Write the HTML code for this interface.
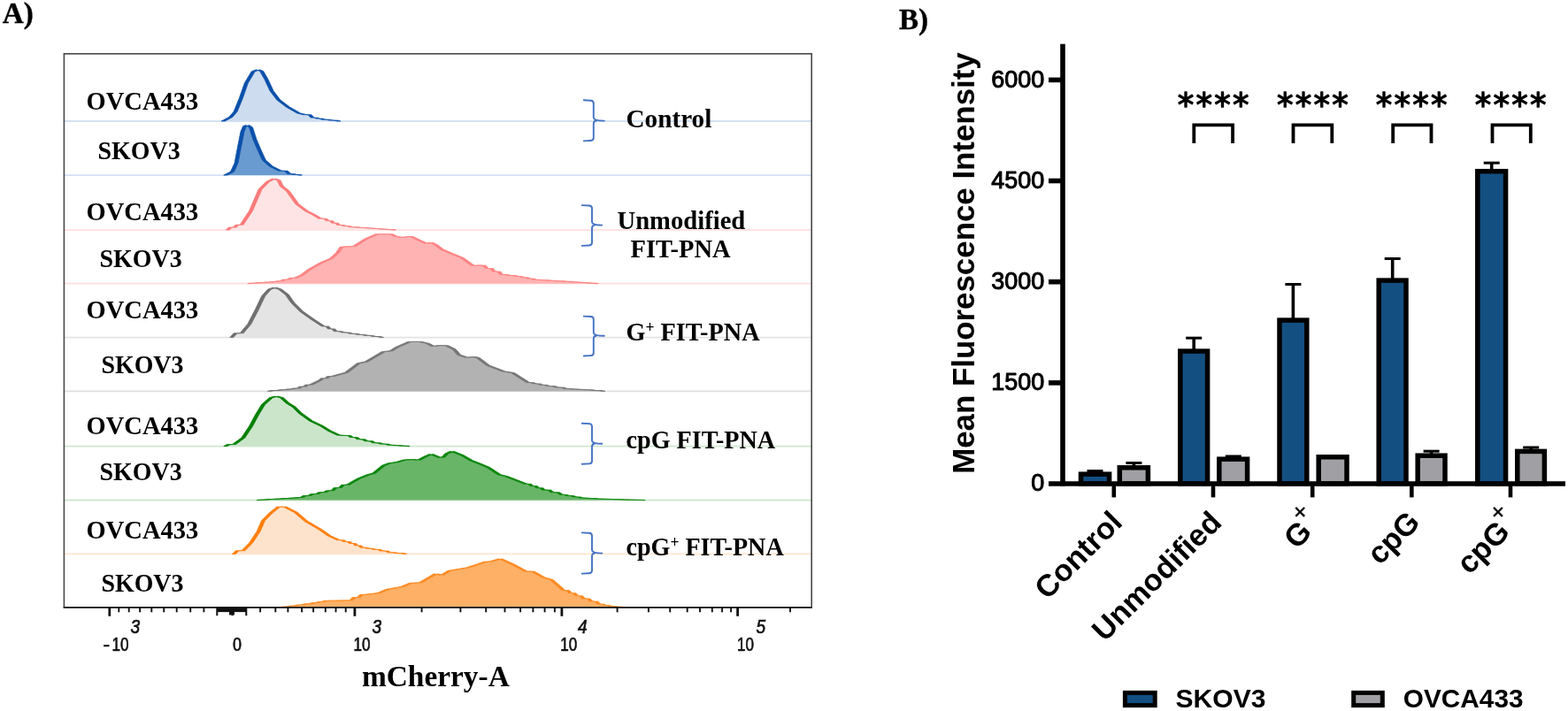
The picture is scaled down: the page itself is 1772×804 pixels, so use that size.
<!DOCTYPE html>
<html lang="en"><head><meta charset="utf-8"><title>Figure: FIT-PNA flow cytometry</title>
<style>
html,body{margin:0;padding:0;background:#fff;}
body{width:1772px;height:804px;overflow:hidden;}
svg{display:block;}
.tb{font-family:"Liberation Serif","DejaVu Serif",serif;font-weight:bold;fill:#000;}
.sb{font-family:"Liberation Sans","DejaVu Sans",sans-serif;font-weight:bold;fill:#000;}
.sr{font-family:"Liberation Sans","DejaVu Sans",sans-serif;font-weight:normal;fill:#000;}
.ax{font-family:"Liberation Sans","DejaVu Sans",sans-serif;fill:#111;}
</style></head><body>
<svg width="1772" height="804" viewBox="0 0 1772 804">
<rect x="0" y="0" width="1772" height="804" fill="#ffffff"/>
<g id="panelA">
<line x1="72.4" y1="137.0" x2="917.2" y2="137.0" stroke="#d3e2f3" stroke-width="1.8"/>
<line x1="72.4" y1="198.1" x2="917.2" y2="198.1" stroke="#d3e2f3" stroke-width="1.8"/>
<line x1="72.4" y1="260.0" x2="917.2" y2="260.0" stroke="#ffe3e3" stroke-width="1.8"/>
<line x1="72.4" y1="320.7" x2="917.2" y2="320.7" stroke="#ffdfdf" stroke-width="1.8"/>
<line x1="72.4" y1="381.6" x2="917.2" y2="381.6" stroke="#e3e3e3" stroke-width="1.8"/>
<line x1="72.4" y1="442.4" x2="917.2" y2="442.4" stroke="#e0e0e0" stroke-width="1.8"/>
<line x1="72.4" y1="504.6" x2="917.2" y2="504.6" stroke="#cfe7cf" stroke-width="1.8"/>
<line x1="72.4" y1="565.6" x2="917.2" y2="565.6" stroke="#cbe5cb" stroke-width="1.8"/>
<line x1="72.4" y1="626.4" x2="917.2" y2="626.4" stroke="#ffe5d0" stroke-width="1.8"/>
<polygon points="252.2,137.0 260.9,132.3 266.1,126.2 272.2,111.4 278.3,94.0 286.1,80.9 291.4,78.8 295.7,80.5 300.9,89.6 307.0,102.7 314.9,113.1 325.3,120.9 337.5,127.9 344.5,129.7 349.9,129.7 353.2,133.1 357.0,133.1 359.3,134.1 363.1,134.1 365.4,135.2 370.8,135.2 374.1,136.1 379.5,136.1 382.8,137.0" fill="#cddcee"/>
<polygon points="250.2,137.0 258.9,132.3 264.1,126.2 270.2,111.4 276.3,94.0 284.1,80.9 289.4,78.8 293.7,80.5 298.9,89.6 305.0,102.7 312.9,113.1 323.3,120.9 335.5,127.9 342.5,129.7 347.9,129.7 351.2,133.1 355.0,133.1 357.3,134.1 361.1,134.1 363.4,135.2 368.8,135.2 372.1,136.1 377.5,136.1 380.8,137.0 384.8,137.0 381.5,136.1 376.1,136.1 372.8,135.2 367.4,135.2 365.1,134.1 361.3,134.1 359.0,133.1 355.2,133.1 351.9,129.7 346.5,129.7 339.5,127.9 327.3,120.9 316.9,113.1 309.0,102.7 302.9,89.6 297.7,80.5 293.4,78.8 288.1,80.9 280.3,94.0 274.2,111.4 268.1,126.2 262.9,132.3 254.2,137.0" fill="#0b50aa" stroke="#0b50aa" stroke-width="0.8" stroke-linejoin="round"/>
<polygon points="254.8,198.1 262.6,194.1 267.0,184.5 270.5,166.2 274.0,148.8 276.6,142.7 279.7,141.5 283.5,143.9 287.9,157.5 293.1,169.7 298.3,181.0 306.2,188.0 316.6,193.2 323.1,193.2 327.1,196.7 330.9,196.7 333.2,197.4 337.0,197.4 339.3,198.1" fill="#6a9bd0"/>
<polygon points="252.8,198.1 260.6,194.1 265.0,184.5 268.5,166.2 272.0,148.8 274.6,142.7 277.7,141.5 281.5,143.9 285.9,157.5 291.1,169.7 296.3,181.0 304.2,188.0 314.6,193.2 321.1,193.2 325.1,196.7 328.9,196.7 331.2,197.4 335.0,197.4 337.3,198.1 341.3,198.1 339.0,197.4 335.2,197.4 332.9,196.7 329.1,196.7 325.1,193.2 318.6,193.2 308.2,188.0 300.3,181.0 295.1,169.7 289.9,157.5 285.5,143.9 281.7,141.5 278.6,142.7 276.0,148.8 272.5,166.2 269.0,184.5 264.6,194.1 256.8,198.1" fill="#0b50aa" stroke="#0b50aa" stroke-width="0.8" stroke-linejoin="round"/>
<polygon points="257.4,260.0 260.4,257.1 265.2,257.1 268.2,254.2 273.1,254.2 283.5,238.5 294.0,214.2 302.7,205.4 309.6,202.0 314.9,203.7 318.4,210.7 325.3,215.9 335.8,230.7 346.2,238.5 354.9,242.9 361.9,247.2 367.3,247.2 370.6,249.8 374.4,249.8 376.7,252.2 380.5,252.2 382.8,254.6 387.1,254.6 389.8,255.7 394.1,255.7 396.7,256.8 402.7,256.8 406.3,257.4 412.3,257.4 415.9,258.0 420.7,258.0 423.7,258.6 428.5,258.6 431.5,259.1 435.8,259.1 438.5,259.6 442.8,259.6 445.5,260.0" fill="#fee4e4"/>
<polygon points="255.4,260.0 258.4,257.1 263.2,257.1 266.2,254.2 271.1,254.2 281.5,238.5 292.0,214.2 300.7,205.4 307.6,202.0 312.9,203.7 316.4,210.7 323.3,215.9 333.8,230.7 344.2,238.5 352.9,242.9 359.9,247.2 365.3,247.2 368.6,249.8 372.4,249.8 374.7,252.2 378.5,252.2 380.8,254.6 385.1,254.6 387.8,255.7 392.1,255.7 394.7,256.8 400.7,256.8 404.3,257.4 410.3,257.4 413.9,258.0 418.7,258.0 421.7,258.6 426.5,258.6 429.5,259.1 433.8,259.1 436.5,259.6 440.8,259.6 443.5,260.0 447.5,260.0 444.8,259.6 440.5,259.6 437.8,259.1 433.5,259.1 430.5,258.6 425.7,258.6 422.7,258.0 417.9,258.0 414.3,257.4 408.3,257.4 404.7,256.8 398.7,256.8 396.1,255.7 391.8,255.7 389.1,254.6 384.8,254.6 382.5,252.2 378.7,252.2 376.4,249.8 372.6,249.8 369.3,247.2 363.9,247.2 356.9,242.9 348.2,238.5 337.8,230.7 327.3,215.9 320.4,210.7 316.9,203.7 311.6,202.0 304.7,205.4 296.0,214.2 285.5,238.5 275.1,254.2 270.2,254.2 267.2,257.1 262.4,257.1 259.4,260.0" fill="#fb7a7a" stroke="#fb7a7a" stroke-width="0.8" stroke-linejoin="round"/>
<polygon points="281.8,320.7 284.9,320.1 289.9,320.1 293.0,319.6 298.1,319.6 301.2,319.0 306.2,319.0 308.5,318.4 312.3,318.4 314.6,317.8 318.4,317.8 321.4,316.1 326.2,316.1 329.2,314.3 334.0,314.3 341.0,311.3 349.7,304.7 363.6,296.9 374.1,292.5 381.0,286.4 386.3,279.1 400.2,278.6 414.1,269.9 426.3,264.7 442.0,264.7 447.2,267.3 454.2,268.5 464.6,267.3 473.3,271.6 482.0,275.4 487.3,274.2 492.5,276.8 499.4,282.1 511.6,287.3 522.1,291.6 534.3,300.3 541.7,300.0 546.9,300.0 550.1,303.5 555.3,303.5 558.4,307.0 563.6,307.0 566.8,310.5 572.2,310.5 575.5,311.5 581.0,311.5 584.3,312.5 588.5,312.5 591.0,313.8 595.2,313.8 597.7,315.0 601.9,315.0 604.4,316.3 609.8,316.3 613.1,316.8 618.6,316.8 621.9,317.3 627.3,317.3 630.6,317.8 636.1,317.8 639.4,318.3 644.8,318.3 648.2,318.9 653.6,318.9 657.0,319.5 662.4,319.5 665.7,320.1 671.2,320.1 674.5,320.7" fill="#ffb3b3"/>
<polygon points="279.8,320.7 282.9,320.1 287.9,320.1 291.0,319.6 296.1,319.6 299.2,319.0 304.2,319.0 306.5,318.4 310.3,318.4 312.6,317.8 316.4,317.8 319.4,316.1 324.2,316.1 327.2,314.3 332.0,314.3 339.0,311.3 347.7,304.7 361.6,296.9 372.1,292.5 379.0,286.4 384.3,279.1 398.2,278.6 412.1,269.9 424.3,264.7 440.0,264.7 445.2,267.3 452.2,268.5 462.6,267.3 471.3,271.6 480.0,275.4 485.3,274.2 490.5,276.8 497.4,282.1 509.6,287.3 520.1,291.6 532.3,300.3 539.7,300.0 544.9,300.0 548.1,303.5 553.3,303.5 556.4,307.0 561.6,307.0 564.8,310.5 570.2,310.5 573.5,311.5 579.0,311.5 582.3,312.5 586.5,312.5 589.0,313.8 593.2,313.8 595.7,315.0 599.9,315.0 602.4,316.3 607.8,316.3 611.1,316.8 616.6,316.8 619.9,317.3 625.3,317.3 628.6,317.8 634.1,317.8 637.4,318.3 642.8,318.3 646.2,318.9 651.6,318.9 655.0,319.5 660.4,319.5 663.7,320.1 669.2,320.1 672.5,320.7 676.5,320.7 673.2,320.1 667.7,320.1 664.4,319.5 659.0,319.5 655.6,318.9 650.2,318.9 646.8,318.3 641.4,318.3 638.1,317.8 632.6,317.8 629.3,317.3 623.9,317.3 620.6,316.8 615.1,316.8 611.8,316.3 606.4,316.3 603.9,315.0 599.7,315.0 597.2,313.8 593.0,313.8 590.5,312.5 586.3,312.5 583.0,311.5 577.5,311.5 574.2,310.5 568.8,310.5 565.6,307.0 560.4,307.0 557.3,303.5 552.1,303.5 548.9,300.0 543.7,300.0 536.3,300.3 524.1,291.6 513.6,287.3 501.4,282.1 494.5,276.8 489.3,274.2 484.0,275.4 475.3,271.6 466.6,267.3 456.2,268.5 449.2,267.3 444.0,264.7 428.3,264.7 416.1,269.9 402.2,278.6 388.3,279.1 383.0,286.4 376.1,292.5 365.6,296.9 351.7,304.7 343.0,311.3 336.0,314.3 331.2,314.3 328.2,316.1 323.4,316.1 320.4,317.8 316.6,317.8 314.3,318.4 310.5,318.4 308.2,319.0 303.2,319.0 300.1,319.6 295.0,319.6 291.9,320.1 286.9,320.1 283.8,320.7" fill="#fd8383" stroke="#fd8383" stroke-width="0.8" stroke-linejoin="round"/>
<polygon points="261.8,381.6 266.1,376.8 273.1,376.8 281.8,366.4 290.5,349.8 297.5,335.0 304.4,327.2 310.5,325.1 316.6,327.2 324.5,333.3 330.5,342.0 341.0,352.4 353.2,361.1 365.4,369.0 369.7,369.0 372.4,371.9 376.7,371.9 379.3,374.7 384.7,374.7 388.0,376.0 393.4,376.0 396.7,377.3 402.1,377.3 405.4,378.4 410.8,378.4 414.1,379.4 419.5,379.4 422.8,380.5 428.2,380.5 431.5,381.6" fill="#e4e4e4"/>
<polygon points="259.8,381.6 264.1,376.8 271.1,376.8 279.8,366.4 288.5,349.8 295.5,335.0 302.4,327.2 308.5,325.1 314.6,327.2 322.5,333.3 328.5,342.0 339.0,352.4 351.2,361.1 363.4,369.0 367.7,369.0 370.4,371.9 374.7,371.9 377.3,374.7 382.7,374.7 386.0,376.0 391.4,376.0 394.7,377.3 400.1,377.3 403.4,378.4 408.8,378.4 412.1,379.4 417.5,379.4 420.8,380.5 426.2,380.5 429.5,381.6 433.5,381.6 430.2,380.5 424.8,380.5 421.5,379.4 416.1,379.4 412.8,378.4 407.4,378.4 404.1,377.3 398.7,377.3 395.4,376.0 390.0,376.0 386.7,374.7 381.3,374.7 378.7,371.9 374.4,371.9 371.7,369.0 367.4,369.0 355.2,361.1 343.0,352.4 332.5,342.0 326.5,333.3 318.6,327.2 312.5,325.1 306.4,327.2 299.5,335.0 292.5,349.8 283.8,366.4 275.1,376.8 268.1,376.8 263.8,381.6" fill="#6f6f6f" stroke="#6f6f6f" stroke-width="0.8" stroke-linejoin="round"/>
<polygon points="304.4,442.4 308.0,441.5 314.0,441.5 317.6,440.7 323.6,440.7 326.2,439.9 330.6,439.9 333.2,439.0 337.5,439.0 340.1,437.1 344.4,437.1 347.1,435.1 351.4,435.1 361.9,429.9 364.5,427.8 368.9,427.8 371.5,425.6 375.8,425.6 391.5,421.2 405.4,410.8 414.1,409.0 433.3,397.7 442.0,396.8 448.9,392.5 462.9,386.4 475.1,386.4 483.8,388.5 489.0,391.6 496.0,390.7 504.7,390.7 513.4,395.1 518.6,401.2 527.3,404.3 536.0,403.5 540.0,404.5 551.7,413.3 569.3,420.0 579.3,421.5 596.8,432.6 601.5,432.6 604.3,433.9 609.0,433.9 611.9,435.3 616.5,435.3 619.4,436.6 625.6,436.6 629.4,438.1 635.6,438.1 639.4,439.6 644.1,439.6 646.9,440.0 651.6,440.0 654.5,440.4 659.1,440.4 662.0,440.8 668.2,440.8 672.0,441.6 678.2,441.6 682.0,442.4" fill="#b2b2b2"/>
<polygon points="302.4,442.4 306.0,441.5 312.0,441.5 315.6,440.7 321.6,440.7 324.2,439.9 328.6,439.9 331.2,439.0 335.5,439.0 338.1,437.1 342.4,437.1 345.1,435.1 349.4,435.1 359.9,429.9 362.5,427.8 366.9,427.8 369.5,425.6 373.8,425.6 389.5,421.2 403.4,410.8 412.1,409.0 431.3,397.7 440.0,396.8 446.9,392.5 460.9,386.4 473.1,386.4 481.8,388.5 487.0,391.6 494.0,390.7 502.7,390.7 511.4,395.1 516.6,401.2 525.3,404.3 534.0,403.5 538.0,404.5 549.7,413.3 567.3,420.0 577.3,421.5 594.8,432.6 599.5,432.6 602.3,433.9 607.0,433.9 609.9,435.3 614.5,435.3 617.4,436.6 623.6,436.6 627.4,438.1 633.6,438.1 637.4,439.6 642.1,439.6 644.9,440.0 649.6,440.0 652.5,440.4 657.1,440.4 660.0,440.8 666.2,440.8 670.0,441.6 676.2,441.6 680.0,442.4 684.0,442.4 680.2,441.6 674.0,441.6 670.2,440.8 664.0,440.8 661.1,440.4 656.5,440.4 653.6,440.0 648.9,440.0 646.1,439.6 641.4,439.6 637.6,438.1 631.4,438.1 627.6,436.6 621.4,436.6 618.5,435.3 613.9,435.3 611.0,433.9 606.3,433.9 603.5,432.6 598.8,432.6 581.3,421.5 571.3,420.0 553.7,413.3 542.0,404.5 538.0,403.5 529.3,404.3 520.6,401.2 515.4,395.1 506.7,390.7 498.0,390.7 491.0,391.6 485.8,388.5 477.1,386.4 464.9,386.4 450.9,392.5 444.0,396.8 435.3,397.7 416.1,409.0 407.4,410.8 393.5,421.2 377.8,425.6 373.5,425.6 370.9,427.8 366.5,427.8 363.9,429.9 353.4,435.1 349.1,435.1 346.4,437.1 342.1,437.1 339.5,439.0 335.2,439.0 332.6,439.9 328.2,439.9 325.6,440.7 319.6,440.7 316.0,441.5 310.0,441.5 306.4,442.4" fill="#767676" stroke="#767676" stroke-width="0.8" stroke-linejoin="round"/>
<polygon points="254.8,504.6 258.4,502.6 264.4,502.6 274.8,495.1 283.5,482.0 290.5,469.0 297.5,457.6 306.2,449.8 312.3,448.1 318.4,449.8 325.3,455.9 332.3,460.2 339.3,467.2 351.4,475.9 363.6,481.7 372.3,487.2 382.8,492.1 389.7,492.5 394.6,492.5 397.5,494.6 402.4,494.6 405.4,496.8 410.8,496.8 414.1,498.8 419.5,498.8 422.8,500.8 428.2,500.8 431.5,502.1 436.9,502.1 440.2,503.3 444.5,503.3 447.2,503.7 451.5,503.7 454.1,504.2 458.5,504.2 461.1,504.6" fill="#cbe5cb"/>
<polygon points="252.8,504.6 256.4,502.6 262.4,502.6 272.8,495.1 281.5,482.0 288.5,469.0 295.5,457.6 304.2,449.8 310.3,448.1 316.4,449.8 323.3,455.9 330.3,460.2 337.3,467.2 349.4,475.9 361.6,481.7 370.3,487.2 380.8,492.1 387.7,492.5 392.6,492.5 395.5,494.6 400.4,494.6 403.4,496.8 408.8,496.8 412.1,498.8 417.5,498.8 420.8,500.8 426.2,500.8 429.5,502.1 434.9,502.1 438.2,503.3 442.5,503.3 445.2,503.7 449.5,503.7 452.1,504.2 456.5,504.2 459.1,504.6 463.1,504.6 460.5,504.2 456.1,504.2 453.5,503.7 449.2,503.7 446.5,503.3 442.2,503.3 438.9,502.1 433.5,502.1 430.2,500.8 424.8,500.8 421.5,498.8 416.1,498.8 412.8,496.8 407.4,496.8 404.4,494.6 399.5,494.6 396.6,492.5 391.7,492.5 384.8,492.1 374.3,487.2 365.6,481.7 353.4,475.9 341.3,467.2 334.3,460.2 327.3,455.9 320.4,449.8 314.3,448.1 308.2,449.8 299.5,457.6 292.5,469.0 285.5,482.0 276.8,495.1 266.4,502.6 260.4,502.6 256.8,504.6" fill="#038003" stroke="#038003" stroke-width="0.8" stroke-linejoin="round"/>
<polygon points="292.2,565.6 295.5,565.1 300.9,565.1 304.2,564.5 309.6,564.5 313.0,564.0 318.4,564.0 321.7,563.5 327.1,563.5 329.7,563.0 334.1,563.0 336.7,562.5 341.0,562.5 344.3,560.5 349.7,560.5 353.0,558.6 358.4,558.6 361.7,556.7 367.1,556.7 370.4,554.8 375.8,554.8 379.1,551.5 384.5,551.5 387.8,548.2 393.2,548.2 405.4,541.2 415.9,536.9 422.8,535.1 433.3,526.4 440.2,523.8 448.9,522.6 457.7,520.0 466.4,519.5 473.3,520.3 480.3,516.5 487.3,513.4 497.7,517.7 501.2,516.8 504.7,513.0 510.8,510.2 522.1,514.7 532.5,520.7 541.7,524.3 551.7,528.5 564.3,536.8 571.8,538.6 594.3,547.3 598.5,547.3 601.0,549.6 605.2,549.6 607.7,551.8 611.9,551.8 614.4,554.1 620.6,554.1 624.4,556.8 630.6,556.8 634.4,559.4 639.1,559.4 641.9,560.6 646.6,560.6 649.5,561.9 654.1,561.9 657.0,563.1 662.4,563.1 665.8,563.6 671.2,563.6 674.5,564.1 679.2,564.1 682.0,564.3 686.7,564.3 689.5,564.5 694.2,564.5 697.0,564.7 701.7,564.7 704.6,565.0 709.2,565.0 712.1,565.2 716.7,565.2 719.6,565.4 724.2,565.4 727.1,565.6" fill="#68b568"/>
<polygon points="290.2,565.6 293.5,565.1 298.9,565.1 302.2,564.5 307.6,564.5 311.0,564.0 316.4,564.0 319.7,563.5 325.1,563.5 327.7,563.0 332.1,563.0 334.7,562.5 339.0,562.5 342.3,560.5 347.7,560.5 351.0,558.6 356.4,558.6 359.7,556.7 365.1,556.7 368.4,554.8 373.8,554.8 377.1,551.5 382.5,551.5 385.8,548.2 391.2,548.2 403.4,541.2 413.9,536.9 420.8,535.1 431.3,526.4 438.2,523.8 446.9,522.6 455.7,520.0 464.4,519.5 471.3,520.3 478.3,516.5 485.3,513.4 495.7,517.7 499.2,516.8 502.7,513.0 508.8,510.2 520.1,514.7 530.5,520.7 539.7,524.3 549.7,528.5 562.3,536.8 569.8,538.6 592.3,547.3 596.5,547.3 599.0,549.6 603.2,549.6 605.7,551.8 609.9,551.8 612.4,554.1 618.6,554.1 622.4,556.8 628.6,556.8 632.4,559.4 637.1,559.4 639.9,560.6 644.6,560.6 647.5,561.9 652.1,561.9 655.0,563.1 660.4,563.1 663.8,563.6 669.2,563.6 672.5,564.1 677.2,564.1 680.0,564.3 684.7,564.3 687.5,564.5 692.2,564.5 695.0,564.7 699.7,564.7 702.6,565.0 707.2,565.0 710.1,565.2 714.7,565.2 717.6,565.4 722.2,565.4 725.1,565.6 729.1,565.6 726.2,565.4 721.6,565.4 718.7,565.2 714.1,565.2 711.2,565.0 706.6,565.0 703.7,564.7 699.0,564.7 696.2,564.5 691.5,564.5 688.7,564.3 684.0,564.3 681.2,564.1 676.5,564.1 673.2,563.6 667.8,563.6 664.4,563.1 659.0,563.1 656.1,561.9 651.5,561.9 648.6,560.6 643.9,560.6 641.1,559.4 636.4,559.4 632.6,556.8 626.4,556.8 622.6,554.1 616.4,554.1 613.9,551.8 609.7,551.8 607.2,549.6 603.0,549.6 600.5,547.3 596.3,547.3 573.8,538.6 566.3,536.8 553.7,528.5 543.7,524.3 534.5,520.7 524.1,514.7 512.8,510.2 506.7,513.0 503.2,516.8 499.7,517.7 489.3,513.4 482.3,516.5 475.3,520.3 468.4,519.5 459.7,520.0 450.9,522.6 442.2,523.8 435.3,526.4 424.8,535.1 417.9,536.9 407.4,541.2 395.2,548.2 389.8,548.2 386.5,551.5 381.1,551.5 377.8,554.8 372.4,554.8 369.1,556.7 363.7,556.7 360.4,558.6 355.0,558.6 351.7,560.5 346.3,560.5 343.0,562.5 338.7,562.5 336.1,563.0 331.7,563.0 329.1,563.5 323.7,563.5 320.4,564.0 315.0,564.0 311.6,564.5 306.2,564.5 302.9,565.1 297.5,565.1 294.2,565.6" fill="#0a860a" stroke="#0a860a" stroke-width="0.8" stroke-linejoin="round"/>
<polygon points="264.4,626.4 268.4,622.7 274.8,622.7 283.5,614.0 292.2,600.9 297.5,588.7 306.2,580.0 314.9,573.1 321.8,573.1 334.0,579.2 346.2,589.6 361.9,598.7 372.3,606.1 382.8,610.8 387.1,610.8 389.8,612.6 394.1,612.6 396.7,614.5 400.5,614.5 402.8,616.9 406.6,616.9 408.9,619.2 413.2,619.2 415.9,620.2 420.2,620.2 422.8,621.3 428.2,621.3 431.5,623.0 436.9,623.0 440.2,624.8 445.6,624.8 448.9,625.6 454.4,625.6 457.7,626.4" fill="#fee3cc"/>
<polygon points="262.4,626.4 266.4,622.7 272.8,622.7 281.5,614.0 290.2,600.9 295.5,588.7 304.2,580.0 312.9,573.1 319.8,573.1 332.0,579.2 344.2,589.6 359.9,598.7 370.3,606.1 380.8,610.8 385.1,610.8 387.8,612.6 392.1,612.6 394.7,614.5 398.5,614.5 400.8,616.9 404.6,616.9 406.9,619.2 411.2,619.2 413.9,620.2 418.2,620.2 420.8,621.3 426.2,621.3 429.5,623.0 434.9,623.0 438.2,624.8 443.6,624.8 446.9,625.6 452.4,625.6 455.7,626.4 459.7,626.4 456.4,625.6 450.9,625.6 447.6,624.8 442.2,624.8 438.9,623.0 433.5,623.0 430.2,621.3 424.8,621.3 422.2,620.2 417.9,620.2 415.2,619.2 410.9,619.2 408.6,616.9 404.8,616.9 402.5,614.5 398.7,614.5 396.1,612.6 391.8,612.6 389.1,610.8 384.8,610.8 374.3,606.1 363.9,598.7 348.2,589.6 336.0,579.2 323.8,573.1 316.9,573.1 308.2,580.0 299.5,588.7 294.2,600.9 285.5,614.0 276.8,622.7 270.4,622.7 266.4,626.4" fill="#ff7f0e" stroke="#ff7f0e" stroke-width="0.8" stroke-linejoin="round"/>
<polygon points="319.2,686.8 322.0,685.9 326.6,685.9 329.4,685.0 334.0,685.0 337.3,683.9 342.7,683.9 346.0,682.8 351.4,682.8 354.0,681.6 358.4,681.6 361.0,680.5 365.3,680.5 368.0,679.3 372.3,679.3 375.4,679.2 380.4,679.2 383.5,679.0 388.6,679.0 391.7,678.9 396.7,678.9 400.0,675.6 405.4,675.6 408.7,672.3 414.1,672.3 428.0,670.6 438.5,666.2 454.2,663.6 464.6,659.3 475.1,658.9 492.5,648.8 499.4,650.5 508.1,645.3 518.6,643.6 529.2,641.8 549.2,635.1 554.3,635.1 565.5,631.8 579.3,638.1 594.3,646.1 601.9,646.1 614.4,653.1 623.2,655.6 636.9,667.6 641.6,667.6 644.4,670.7 649.1,670.7 652.0,673.8 656.6,673.8 659.5,676.9 664.9,676.9 668.2,680.0 673.7,680.0 677.0,683.2 681.0,683.2 683.5,684.4 687.5,684.4 690.0,685.6 694.5,685.6 697.2,686.2 701.7,686.2 704.5,686.8" fill="#fdb066"/>
<polygon points="317.2,686.8 320.0,685.9 324.6,685.9 327.4,685.0 332.0,685.0 335.3,683.9 340.7,683.9 344.0,682.8 349.4,682.8 352.0,681.6 356.4,681.6 359.0,680.5 363.3,680.5 366.0,679.3 370.3,679.3 373.4,679.2 378.4,679.2 381.5,679.0 386.6,679.0 389.7,678.9 394.7,678.9 398.0,675.6 403.4,675.6 406.7,672.3 412.1,672.3 426.0,670.6 436.5,666.2 452.2,663.6 462.6,659.3 473.1,658.9 490.5,648.8 497.4,650.5 506.1,645.3 516.6,643.6 527.2,641.8 547.2,635.1 552.3,635.1 563.5,631.8 577.3,638.1 592.3,646.1 599.9,646.1 612.4,653.1 621.2,655.6 634.9,667.6 639.6,667.6 642.4,670.7 647.1,670.7 650.0,673.8 654.6,673.8 657.5,676.9 662.9,676.9 666.2,680.0 671.7,680.0 675.0,683.2 679.0,683.2 681.5,684.4 685.5,684.4 688.0,685.6 692.5,685.6 695.2,686.2 699.7,686.2 702.5,686.8 706.5,686.8 703.7,686.2 699.2,686.2 696.5,685.6 692.0,685.6 689.5,684.4 685.5,684.4 683.0,683.2 679.0,683.2 675.7,680.0 670.2,680.0 666.9,676.9 661.5,676.9 658.6,673.8 654.0,673.8 651.1,670.7 646.4,670.7 643.6,667.6 638.9,667.6 625.2,655.6 616.4,653.1 603.9,646.1 596.3,646.1 581.3,638.1 567.5,631.8 556.3,635.1 551.2,635.1 531.2,641.8 520.6,643.6 510.1,645.3 501.4,650.5 494.5,648.8 477.1,658.9 466.6,659.3 456.2,663.6 440.5,666.2 430.0,670.6 416.1,672.3 410.7,672.3 407.4,675.6 402.0,675.6 398.7,678.9 393.7,678.9 390.6,679.0 385.5,679.0 382.4,679.2 377.4,679.2 374.3,679.3 370.0,679.3 367.3,680.5 363.0,680.5 360.4,681.6 356.0,681.6 353.4,682.8 348.0,682.8 344.7,683.9 339.3,683.9 336.0,685.0 331.4,685.0 328.6,685.9 324.0,685.9 321.2,686.8" fill="#fe8a22" stroke="#fe8a22" stroke-width="0.8" stroke-linejoin="round"/>
<rect x="72.4" y="60.8" width="844.8" height="626.1" fill="none" stroke="#484848" stroke-width="1.6"/>
<line x1="71.7" y1="686.9" x2="917.9000000000001" y2="686.9" stroke="#222" stroke-width="1.8"/>
<line x1="123.8" y1="686.9" x2="123.8" y2="696.8" stroke="#111" stroke-width="2.8"/>
<line x1="400.9" y1="686.9" x2="400.9" y2="696.8" stroke="#111" stroke-width="2.8"/>
<line x1="634.9" y1="686.9" x2="634.9" y2="696.8" stroke="#111" stroke-width="2.8"/>
<line x1="833.6" y1="686.9" x2="833.6" y2="696.8" stroke="#111" stroke-width="2.8"/>
<line x1="134.3" y1="686.9" x2="134.3" y2="692.3" stroke="#111" stroke-width="1.9"/>
<line x1="145.7" y1="686.9" x2="145.7" y2="692.3" stroke="#111" stroke-width="1.9"/>
<line x1="158.1" y1="686.9" x2="158.1" y2="692.3" stroke="#111" stroke-width="1.9"/>
<line x1="171.3" y1="686.9" x2="171.3" y2="692.3" stroke="#111" stroke-width="1.9"/>
<line x1="185.2" y1="686.9" x2="185.2" y2="692.3" stroke="#111" stroke-width="1.9"/>
<line x1="199.7" y1="686.9" x2="199.7" y2="692.3" stroke="#111" stroke-width="1.9"/>
<line x1="215.2" y1="686.9" x2="215.2" y2="692.3" stroke="#111" stroke-width="1.9"/>
<line x1="230.4" y1="686.9" x2="230.4" y2="692.3" stroke="#111" stroke-width="1.9"/>
<line x1="294.1" y1="686.9" x2="294.1" y2="692.3" stroke="#111" stroke-width="1.9"/>
<line x1="311.3" y1="686.9" x2="311.3" y2="692.3" stroke="#111" stroke-width="1.9"/>
<line x1="325.4" y1="686.9" x2="325.4" y2="692.3" stroke="#111" stroke-width="1.9"/>
<line x1="341.1" y1="686.9" x2="341.1" y2="692.3" stroke="#111" stroke-width="1.9"/>
<line x1="354.1" y1="686.9" x2="354.1" y2="692.3" stroke="#111" stroke-width="1.9"/>
<line x1="367.8" y1="686.9" x2="367.8" y2="692.3" stroke="#111" stroke-width="1.9"/>
<line x1="379.5" y1="686.9" x2="379.5" y2="692.3" stroke="#111" stroke-width="1.9"/>
<line x1="390.7" y1="686.9" x2="390.7" y2="692.3" stroke="#111" stroke-width="1.9"/>
<line x1="476.6" y1="686.9" x2="476.6" y2="692.3" stroke="#111" stroke-width="1.9"/>
<line x1="520.4" y1="686.9" x2="520.4" y2="692.3" stroke="#111" stroke-width="1.9"/>
<line x1="549.2" y1="686.9" x2="549.2" y2="692.3" stroke="#111" stroke-width="1.9"/>
<line x1="570.5" y1="686.9" x2="570.5" y2="692.3" stroke="#111" stroke-width="1.9"/>
<line x1="588.1" y1="686.9" x2="588.1" y2="692.3" stroke="#111" stroke-width="1.9"/>
<line x1="602.4" y1="686.9" x2="602.4" y2="692.3" stroke="#111" stroke-width="1.9"/>
<line x1="615.6" y1="686.9" x2="615.6" y2="692.3" stroke="#111" stroke-width="1.9"/>
<line x1="626.9" y1="686.9" x2="626.9" y2="692.3" stroke="#111" stroke-width="1.9"/>
<line x1="697.6" y1="686.9" x2="697.6" y2="692.3" stroke="#111" stroke-width="1.9"/>
<line x1="732.9" y1="686.9" x2="732.9" y2="692.3" stroke="#111" stroke-width="1.9"/>
<line x1="757.2" y1="686.9" x2="757.2" y2="692.3" stroke="#111" stroke-width="1.9"/>
<line x1="776.7" y1="686.9" x2="776.7" y2="692.3" stroke="#111" stroke-width="1.9"/>
<line x1="791" y1="686.9" x2="791" y2="692.3" stroke="#111" stroke-width="1.9"/>
<line x1="804.8" y1="686.9" x2="804.8" y2="692.3" stroke="#111" stroke-width="1.9"/>
<line x1="816.1" y1="686.9" x2="816.1" y2="692.3" stroke="#111" stroke-width="1.9"/>
<line x1="826.1" y1="686.9" x2="826.1" y2="692.3" stroke="#111" stroke-width="1.9"/>
<line x1="893" y1="686.9" x2="893" y2="692.3" stroke="#111" stroke-width="1.9"/>
<rect x="246" y="686.9" width="32.5" height="5.2" fill="#111"/>
<line x1="245.3" y1="686.9" x2="245.3" y2="696.2" stroke="#111" stroke-width="2"/>
<line x1="262.5" y1="686.9" x2="262.5" y2="696.2" stroke="#111" stroke-width="2"/>
<line x1="278.3" y1="686.9" x2="278.3" y2="696.2" stroke="#111" stroke-width="2"/>
<rect x="259" y="686.9" width="6" height="8.5" fill="#111"/>
<text class="ax" y="736.2" font-size="21.5" stroke="#111" stroke-width="0.7"><tspan x="116.6" textLength="7.6" lengthAdjust="spacingAndGlyphs">-</tspan><tspan x="126.6" textLength="19" lengthAdjust="spacingAndGlyphs">10</tspan></text><text class="ax" x="147.5" y="716.3" font-size="21.5" font-style="italic" textLength="10.6" lengthAdjust="spacingAndGlyphs" stroke="#111" stroke-width="0.7">3</text>
<text class="ax" x="263.0" y="736.2" font-size="21.5" textLength="10.0" lengthAdjust="spacingAndGlyphs" stroke="#111" stroke-width="0.7">0</text>
<text class="ax" x="399.6" y="736.2" font-size="21.5" textLength="19" lengthAdjust="spacingAndGlyphs" stroke="#111" stroke-width="0.7">10</text><text class="ax" x="420.5" y="716.3" font-size="21.5" font-style="italic" textLength="10.6" lengthAdjust="spacingAndGlyphs" stroke="#111" stroke-width="0.7">3</text>
<text class="ax" x="633.2" y="736.2" font-size="21.5" textLength="19" lengthAdjust="spacingAndGlyphs" stroke="#111" stroke-width="0.7">10</text><text class="ax" x="653" y="716.3" font-size="21.5" font-style="italic" textLength="10.6" lengthAdjust="spacingAndGlyphs" stroke="#111" stroke-width="0.7">4</text>
<text class="ax" x="832.9" y="736.2" font-size="21.5" textLength="19" lengthAdjust="spacingAndGlyphs" stroke="#111" stroke-width="0.7">10</text><text class="ax" x="854.5" y="716.3" font-size="21.5" font-style="italic" textLength="10.6" lengthAdjust="spacingAndGlyphs" stroke="#111" stroke-width="0.7">5</text>
<text class="tb" x="408.9" y="776.4" font-size="33.5" textLength="166.9" lengthAdjust="spacingAndGlyphs">mCherry-A</text>
<text class="tb" x="97.6" y="123.6" font-size="29.5" textLength="126.6" lengthAdjust="spacingAndGlyphs">OVCA433</text>
<text class="tb" x="97.6" y="249.4" font-size="29.5" textLength="126.6" lengthAdjust="spacingAndGlyphs">OVCA433</text>
<text class="tb" x="97.6" y="359.9" font-size="29.5" textLength="126.6" lengthAdjust="spacingAndGlyphs">OVCA433</text>
<text class="tb" x="97.6" y="491.3" font-size="29.5" textLength="126.6" lengthAdjust="spacingAndGlyphs">OVCA433</text>
<text class="tb" x="97.6" y="609.2" font-size="29.5" textLength="126.6" lengthAdjust="spacingAndGlyphs">OVCA433</text>
<text class="tb" x="110.6" y="180.2" font-size="29.5" textLength="93.1" lengthAdjust="spacingAndGlyphs">SKOV3</text>
<text class="tb" x="112.6" y="302.0" font-size="29.5" textLength="93.1" lengthAdjust="spacingAndGlyphs">SKOV3</text>
<text class="tb" x="114.4" y="422.3" font-size="29.5" textLength="93.1" lengthAdjust="spacingAndGlyphs">SKOV3</text>
<text class="tb" x="112.6" y="543.1" font-size="29.5" textLength="93.1" lengthAdjust="spacingAndGlyphs">SKOV3</text>
<text class="tb" x="114.4" y="669.2" font-size="29.5" textLength="93.1" lengthAdjust="spacingAndGlyphs">SKOV3</text>
<path d="M659.8,113.3 L667.8,113.7 Q670.8,113.89999999999999 670.8,116.89999999999999 L670.8,133.1 Q670.8,136.6 682.8,136.6 M670.8,140.1 Q670.8,136.6 673.8,136.6 M670.8,139.6 L670.8,155.8 Q670.8,158.8 667.8,159.0 L659.8,159.4" fill="none" stroke="#4472c4" stroke-width="1.9" stroke-linecap="round"/>
<path d="M657.8,232.1 L666.0,232.5 Q669,232.7 669,235.7 L669,251.1 Q669,254.6 680.3,254.6 M669,258.1 Q669,254.6 672,254.6 M669,257.6 L669,274.29999999999995 Q669,277.29999999999995 666.0,277.5 L657.8,277.9" fill="none" stroke="#4472c4" stroke-width="1.9" stroke-linecap="round"/>
<path d="M659.8,357.6 L667.8,358.0 Q670.8,358.20000000000005 670.8,361.20000000000005 L670.8,376.2 Q670.8,379.7 682.8,379.7 M670.8,383.2 Q670.8,379.7 673.8,379.7 M670.8,382.7 L670.8,398.9 Q670.8,401.9 667.8,402.1 L659.8,402.5" fill="none" stroke="#4472c4" stroke-width="1.9" stroke-linecap="round"/>
<path d="M657.8,478.7 L666.0,479.09999999999997 Q669,479.3 669,482.3 L669,498.2 Q669,501.7 680.3,501.7 M669,505.2 Q669,501.7 672,501.7 M669,504.7 L669,521.1999999999999 Q669,524.1999999999999 666.0,524.4 L657.8,524.8" fill="none" stroke="#4472c4" stroke-width="1.9" stroke-linecap="round"/>
<path d="M657.8,602.4 L666.0,602.8 Q669,603.0 669,606.0 L669,622.1 Q669,625.6 680.3,625.6 M669,629.1 Q669,625.6 672,625.6 M669,628.6 L669,645.0 Q669,648.0 666.0,648.2 L657.8,648.6" fill="none" stroke="#4472c4" stroke-width="1.9" stroke-linecap="round"/>
<text class="tb" x="707.5" y="144.1" font-size="29" textLength="96.8" lengthAdjust="spacingAndGlyphs">Control</text>
<text class="tb" x="697.5" y="258.6" font-size="29" textLength="144.8" lengthAdjust="spacingAndGlyphs">Unmodified</text>
<text class="tb" x="712.6" y="291.2" font-size="29" textLength="113.0" lengthAdjust="spacingAndGlyphs">FIT-PNA</text>
<text class="tb" x="707.5" y="385.2" font-size="29" textLength="151.1" lengthAdjust="spacingAndGlyphs">G<tspan font-size="18" dy="-9">+</tspan><tspan dy="9"> FIT-PNA</tspan></text>
<text class="tb" x="707.5" y="506.8" font-size="29" textLength="168.7" lengthAdjust="spacingAndGlyphs">cpG FIT-PNA</text>
<text class="tb" x="707.5" y="628.3" font-size="29" textLength="178.2" lengthAdjust="spacingAndGlyphs">cpG<tspan font-size="18" dy="-9">+</tspan><tspan dy="9"> FIT-PNA</tspan></text>
<text class="tb" x="2.8" y="25.7" font-size="33" textLength="35" lengthAdjust="spacingAndGlyphs" stroke="#000" stroke-width="0.4">A)</text>
</g>
<g id="panelB">
<text class="tb" x="1016.0" y="32.8" font-size="33" textLength="33" lengthAdjust="spacingAndGlyphs" stroke="#000" stroke-width="0.4">B)</text>
<line x1="1237.5" y1="532.6" x2="1237.5" y2="535.5" stroke="#000" stroke-width="3.6"/>
<line x1="1228.5" y1="532.6" x2="1246.5" y2="532.6" stroke="#000" stroke-width="3.0"/>
<rect x="1221.5" y="536.2" width="32.1" height="10.8" fill="#144f82" stroke="#000" stroke-width="5.5"/>
<line x1="1281.4" y1="523.5" x2="1281.4" y2="528.0" stroke="#000" stroke-width="3.6"/>
<line x1="1272.4" y1="523.5" x2="1290.4" y2="523.5" stroke="#000" stroke-width="3.0"/>
<rect x="1265.3" y="528.8" width="32.1" height="18.2" fill="#a0a0a4" stroke="#000" stroke-width="5.5"/>
<line x1="1349.2" y1="382.2" x2="1349.2" y2="396.4" stroke="#000" stroke-width="3.6"/>
<line x1="1340.2" y1="382.2" x2="1358.2" y2="382.2" stroke="#000" stroke-width="3.0"/>
<rect x="1333.8" y="397.1" width="30.8" height="149.9" fill="#144f82" stroke="#000" stroke-width="5.5"/>
<line x1="1393.8" y1="516.0" x2="1393.8" y2="518.5" stroke="#000" stroke-width="3.6"/>
<line x1="1384.8" y1="516.0" x2="1402.8" y2="516.0" stroke="#000" stroke-width="3.0"/>
<rect x="1377.8" y="519.2" width="31.8" height="27.8" fill="#a0a0a4" stroke="#000" stroke-width="5.5"/>
<line x1="1461.4" y1="321.5" x2="1461.4" y2="361.4" stroke="#000" stroke-width="3.6"/>
<line x1="1452.4" y1="321.5" x2="1470.4" y2="321.5" stroke="#000" stroke-width="3.0"/>
<rect x="1446.0" y="362.1" width="30.8" height="184.9" fill="#144f82" stroke="#000" stroke-width="5.5"/>
<rect x="1490.2" y="516.8" width="31.8" height="30.2" fill="#a0a0a4" stroke="#000" stroke-width="5.5"/>
<line x1="1573.7" y1="292.5" x2="1573.7" y2="316.3" stroke="#000" stroke-width="3.6"/>
<line x1="1564.7" y1="292.5" x2="1582.7" y2="292.5" stroke="#000" stroke-width="3.0"/>
<rect x="1558.2" y="317.1" width="30.8" height="229.9" fill="#144f82" stroke="#000" stroke-width="5.5"/>
<line x1="1617.6" y1="510.2" x2="1617.6" y2="514.5" stroke="#000" stroke-width="3.6"/>
<line x1="1608.6" y1="510.2" x2="1626.6" y2="510.2" stroke="#000" stroke-width="3.0"/>
<rect x="1602.2" y="515.2" width="30.8" height="31.8" fill="#a0a0a4" stroke="#000" stroke-width="5.5"/>
<line x1="1685.7" y1="184.2" x2="1685.7" y2="192.9" stroke="#000" stroke-width="3.6"/>
<line x1="1676.7" y1="184.2" x2="1694.7" y2="184.2" stroke="#000" stroke-width="3.0"/>
<rect x="1669.8" y="193.7" width="31.8" height="353.4" fill="#144f82" stroke="#000" stroke-width="5.5"/>
<line x1="1730.2" y1="506.0" x2="1730.2" y2="509.7" stroke="#000" stroke-width="3.6"/>
<line x1="1721.2" y1="506.0" x2="1739.2" y2="506.0" stroke="#000" stroke-width="3.0"/>
<rect x="1714.8" y="510.4" width="30.6" height="36.6" fill="#a0a0a4" stroke="#000" stroke-width="5.5"/>
<line x1="1201.0" y1="49.7" x2="1201.0" y2="549.8" stroke="#000" stroke-width="5.6"/>
<line x1="1185" y1="547.0" x2="1769" y2="547.0" stroke="#000" stroke-width="5.6"/>
<line x1="1185" y1="432.9" x2="1201" y2="432.9" stroke="#000" stroke-width="5.6"/>
<line x1="1185" y1="318.7" x2="1201" y2="318.7" stroke="#000" stroke-width="5.6"/>
<line x1="1185" y1="204.5" x2="1201" y2="204.5" stroke="#000" stroke-width="5.6"/>
<line x1="1185" y1="90.4" x2="1201" y2="90.4" stroke="#000" stroke-width="5.6"/>
<line x1="1258.8" y1="547.0" x2="1258.8" y2="562.4" stroke="#000" stroke-width="4.6"/>
<line x1="1371.0" y1="547.0" x2="1371.0" y2="562.4" stroke="#000" stroke-width="4.6"/>
<line x1="1483.2" y1="547.0" x2="1483.2" y2="562.4" stroke="#000" stroke-width="4.6"/>
<line x1="1595.3" y1="547.0" x2="1595.3" y2="562.4" stroke="#000" stroke-width="4.6"/>
<line x1="1707.0" y1="547.0" x2="1707.0" y2="562.4" stroke="#000" stroke-width="4.6"/>
<text class="sr" x="1180.4" y="555.1" font-size="27" text-anchor="end" stroke="#000" stroke-width="1.0" stroke-linejoin="round">0</text>
<text class="sr" x="1180.4" y="441.0" font-size="27" text-anchor="end" stroke="#000" stroke-width="1.0" stroke-linejoin="round">1500</text>
<text class="sr" x="1180.4" y="326.8" font-size="27" text-anchor="end" stroke="#000" stroke-width="1.0" stroke-linejoin="round">3000</text>
<text class="sr" x="1180.4" y="212.6" font-size="27" text-anchor="end" stroke="#000" stroke-width="1.0" stroke-linejoin="round">4500</text>
<text class="sr" x="1180.4" y="98.5" font-size="27" text-anchor="end" stroke="#000" stroke-width="1.0" stroke-linejoin="round">6000</text>
<text class="sb" font-size="34.5" textLength="476.5" lengthAdjust="spacingAndGlyphs" transform="translate(1101.2,535.8) rotate(-90)">Mean Fluorescence Intensity</text>
<text x="1330.8" y="131.65" font-family="DejaVu Sans, Liberation Sans, sans-serif" font-size="37" letter-spacing="2.25" fill="#000" stroke="#000" stroke-width="1.3" stroke-linejoin="round">****</text>
<text x="1443.0" y="131.65" font-family="DejaVu Sans, Liberation Sans, sans-serif" font-size="37" letter-spacing="2.25" fill="#000" stroke="#000" stroke-width="1.3" stroke-linejoin="round">****</text>
<text x="1554.8" y="131.65" font-family="DejaVu Sans, Liberation Sans, sans-serif" font-size="37" letter-spacing="2.25" fill="#000" stroke="#000" stroke-width="1.3" stroke-linejoin="round">****</text>
<text x="1666.8" y="131.65" font-family="DejaVu Sans, Liberation Sans, sans-serif" font-size="37" letter-spacing="2.25" fill="#000" stroke="#000" stroke-width="1.3" stroke-linejoin="round">****</text>
<path d="M1349.3000000000002,162 V141.4 H1393.1 V162" fill="none" stroke="#000" stroke-width="3.8"/>
<path d="M1461.5,162 V141.4 H1505.3 V162" fill="none" stroke="#000" stroke-width="3.8"/>
<path d="M1574.2,162 V141.4 H1617.5 V162" fill="none" stroke="#000" stroke-width="3.8"/>
<path d="M1686.5,162 V141.4 H1729.8 V162" fill="none" stroke="#000" stroke-width="3.8"/>
<text class="sb" font-size="34.5" text-anchor="end" transform="translate(1270.1,592.5) rotate(-45)">Control</text>
<text class="sb" font-size="34.5" text-anchor="end" transform="translate(1382.3,592.5) rotate(-45)">Unmodified</text>
<text class="sb" font-size="34.5" text-anchor="end" transform="translate(1494.7,592.8) rotate(-45)">G<tspan font-weight="normal" font-size="28" dy="-18.5" dx="-1.4" stroke="#000" stroke-width="0.3">+</tspan></text>
<text class="sb" font-size="34.5" text-anchor="end" transform="translate(1606.6,592.5) rotate(-45)">cpG</text>
<text class="sb" font-size="34.5" text-anchor="end" transform="translate(1718.5,592.8) rotate(-45)">cpG<tspan font-weight="normal" font-size="28" dy="-18.5" dx="-1.4" stroke="#000" stroke-width="0.3">+</tspan></text>
<rect x="1271.4" y="783.4" width="33.8" height="14.2" fill="#144f82" stroke="#000" stroke-width="5"/>
<text class="sb" x="1328.5" y="800.1" font-size="29.5" textLength="101.9" lengthAdjust="spacingAndGlyphs">SKOV3</text>
<rect x="1529.7" y="783.4" width="32.6" height="14.2" fill="#a0a0a4" stroke="#000" stroke-width="5"/>
<text class="sb" x="1585.8" y="800.1" font-size="29.5" textLength="135.7" lengthAdjust="spacingAndGlyphs">OVCA433</text>
</g>
</svg></body></html>
